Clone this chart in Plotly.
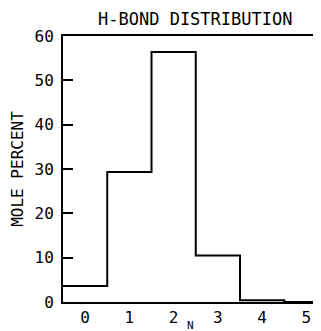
import plotly.graph_objects as go

# Data
n_values = [0, 1, 2, 3, 4, 5]
mole_percent = [3.6, 29.3, 56.4, 10.5, 0.4, 0.0]
y_ticks = [0, 10, 20, 30, 40, 50, 60]
title_text = "H-BOND DISTRIBUTION"
y_title = "MOLE PERCENT"
x_title = "N"

# Build step outline from bin edges
edges = [n - 0.5 for n in n_values] + [n_values[-1] + 0.5]
step_y = mole_percent + [mole_percent[-1]]

FONT = "DejaVu Sans Mono"

fig = go.Figure()
fig.add_trace(go.Scatter(
    x=edges, y=step_y, mode="lines",
    line=dict(shape="hv", color="black", width=2),
    hoverinfo="skip", showlegend=False,
))

# page body has an 8px default margin, so the figure is sized/offset to compensate
fig.update_layout(
    width=313, height=323,
    margin=dict(l=55, r=0, t=28, b=29),
    paper_bgcolor="white", plot_bgcolor="white",
    font=dict(family=FONT, color="black", size=16),
    showlegend=False,
    xaxis=dict(
        range=[-0.5, 5.33], tickmode="array", tickvals=n_values,
        ticktext=[str(n) for n in n_values],
        showgrid=False, zeroline=False, showline=True, mirror=True,
        linecolor="black", linewidth=2, ticks="", ticklen=0,
        tickfont=dict(family=FONT, size=16),
    ),
    yaxis=dict(
        range=[0, 60], tickmode="array", tickvals=y_ticks,
        showgrid=False, zeroline=False, showline=True,
        linecolor="black", linewidth=2, ticks="inside", ticklen=10,
        tickwidth=2, tickcolor="black", ticklabelstandoff=4,
        tickfont=dict(family=FONT, size=16),
        title=dict(text=y_title, font=dict(family=FONT, size=16), standoff=8),
    ),
    annotations=[
        dict(text=title_text, xref="paper", yref="paper", x=0.51, y=1.0,
             yshift=5, xanchor="center", yanchor="bottom", showarrow=False,
             font=dict(family=FONT, size=17)),
        dict(text=x_title, xref="paper", yref="paper", x=0.495, y=0,
             yshift=-15, xanchor="center", yanchor="top", showarrow=False,
             font=dict(family=FONT, size=11)),
    ],
)

fig.write_html("out.html")
